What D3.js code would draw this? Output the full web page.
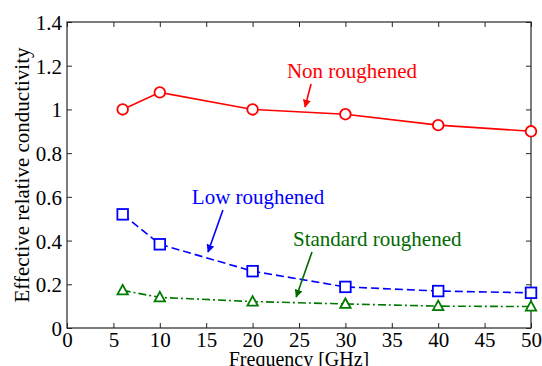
<!DOCTYPE html>
<html>
<head>
<meta charset="utf-8">
<script src="https://cdn.jsdelivr.net/npm/d3@7"></script>
<style>
  body { margin: 0; background: #fff; }
  svg { display: block; font-family: "Liberation Serif", "Times New Roman", serif; }
</style>
</head>
<body>
<div id="chart"></div>
<script>
const W = 542, H = 366;
const margin = {top: 22, right: 11, bottom: 38, left: 67};

// data
const freq = [6, 10, 20, 30, 40, 50];
const nonRough = [1.0, 1.078, 1.0, 0.978, 0.928, 0.90];
const lowRough = [0.52, 0.383, 0.26, 0.188, 0.169, 0.161];
const stdRough = [0.172, 0.14, 0.121, 0.11, 0.10, 0.098];

const xTicks = [0, 5, 10, 15, 20, 25, 30, 35, 40, 45, 50];
const yTicks = [0, 0.2, 0.4, 0.6, 0.8, 1, 1.2, 1.4];
const yTickLabels = ["0", "0.2", "0.4", "0.6", "0.8", "1", "1.2", "1.4"];

const series = [
  {name: "Non roughened", values: nonRough, color: "#ff0000", dash: null, marker: "circle"},
  {name: "Low roughened", values: lowRough, color: "#0000ff", dash: "8,4", marker: "square"},
  {name: "Standard roughened", values: stdRough, color: "#007a00", dash: "8,3,2,3", marker: "triangle"}
];

// annotations (in data units)
const notes = [
  {text: "Non roughened", color: "#ff0000", tx: 23.7, ty: 1.144, x1: 26.3, y1: 1.116, x2: 25.65, y2: 1.011},
  {text: "Low roughened", color: "#0000ff", tx: 13.45, ty: 0.567, x1: 16.8, y1: 0.54, x2: 15.2, y2: 0.348},
  {text: "Standard roughened", color: "#006a00", tx: 24.35, ty: 0.375, x1: 26.4, y1: 0.348, x2: 24.7, y2: 0.142}
];

const w = W - margin.left - margin.right;
const h = H - margin.top - margin.bottom;

const svg = d3.select("#chart").append("svg")
  .attr("width", W).attr("height", H);

const g = svg.append("g")
  .attr("transform", "translate(" + margin.left + "," + margin.top + ")");

const x = d3.scaleLinear().domain([0, 50]).range([0, w]);
const y = d3.scaleLinear().domain([0, 1.4]).range([h, 0]);

// arrow heads
const defs = svg.append("defs");
notes.forEach((n, i) => {
  defs.append("marker")
    .attr("id", "head" + i)
    .attr("viewBox", "0 0 10 10")
    .attr("refX", 9).attr("refY", 5)
    .attr("markerWidth", 5).attr("markerHeight", 5)
    .attr("markerUnits", "strokeWidth")
    .attr("orient", "auto")
    .append("path")
      .attr("d", "M0,0 L10,5 L0,10 z")
      .attr("fill", n.color);
});

// axes (ticks pointing inward, on all four sides)
const axisColor = "#262626";
function styleAxis(sel) {
  sel.select(".domain").remove();
  sel.selectAll(".tick line").attr("stroke", axisColor);
  sel.selectAll(".tick text")
    .attr("fill", "#000")
    .style("font-family", "'Liberation Serif', serif")
    .style("font-size", "21px");
}

g.append("g")
  .attr("transform", "translate(0," + h + ")")
  .call(d3.axisBottom(x).tickValues(xTicks).tickSize(-5).tickPadding(3))
  .call(styleAxis)
  .selectAll(".tick text").attr("dy", "0.74em");

g.append("g")
  .call(d3.axisTop(x).tickValues(xTicks).tickSize(-5).tickFormat(""))
  .call(styleAxis);

g.append("g")
  .call(d3.axisLeft(y).tickValues(yTicks).tickSize(-5).tickPadding(5)
    .tickFormat((d, i) => yTickLabels[i]))
  .call(styleAxis)
  .selectAll(".tick text").attr("dy", "0.36em");

g.append("g")
  .attr("transform", "translate(" + w + ",0)")
  .call(d3.axisRight(y).tickValues(yTicks).tickSize(-5).tickFormat(""))
  .call(styleAxis);

g.append("rect")
  .attr("width", w).attr("height", h)
  .attr("fill", "none")
  .attr("stroke", axisColor)
  .attr("stroke-width", 1.2);

// axis titles
svg.append("text")
  .attr("x", margin.left + w / 2)
  .attr("y", 366)
  .attr("text-anchor", "middle")
  .style("font-size", "20px")
  .text("Frequency [GHz]");

svg.append("text")
  .attr("transform", "translate(29," + (margin.top + h / 2) + ") rotate(-90)")
  .attr("text-anchor", "middle")
  .style("font-size", "21px")
  .text("Effective relative conductivity");

// lines
const line = d3.line()
  .x((d, i) => x(freq[i]))
  .y(d => y(d));

series.forEach(s => {
  g.append("path")
    .datum(s.values)
    .attr("d", line)
    .attr("fill", "none")
    .attr("stroke", s.color)
    .attr("stroke-width", 1.6)
    .attr("stroke-dasharray", s.dash);

  const pts = g.append("g").selectAll("path.pt")
    .data(s.values)
    .enter();

  if (s.marker === "circle") {
    pts.append("circle")
      .attr("cx", (d, i) => x(freq[i]))
      .attr("cy", d => y(d))
      .attr("r", 5.3)
      .attr("fill", "#fff")
      .attr("stroke", s.color)
      .attr("stroke-width", 1.8);
  } else if (s.marker === "square") {
    pts.append("rect")
      .attr("x", (d, i) => x(freq[i]) - 5.3)
      .attr("y", d => y(d) - 5.3)
      .attr("width", 10.6).attr("height", 10.6)
      .attr("fill", "#fff")
      .attr("stroke", s.color)
      .attr("stroke-width", 1.8);
  } else {
    pts.append("path")
      .attr("d", (d, i) => {
        const cx = x(freq[i]), cy = y(d);
        return "M" + (cx - 5.2) + "," + (cy + 4) + "L" + (cx + 5.2) + "," + (cy + 4) +
               "L" + cx + "," + (cy - 5.5) + "Z";
      })
      .attr("fill", "#fff")
      .attr("stroke", s.color)
      .attr("stroke-width", 1.8);
  }
});

// annotations
notes.forEach((n, i) => {
  g.append("line")
    .attr("x1", x(n.x1)).attr("y1", y(n.y1))
    .attr("x2", x(n.x2)).attr("y2", y(n.y2))
    .attr("stroke", n.color)
    .attr("stroke-width", 1.6)
    .attr("marker-end", "url(#head" + i + ")");
  g.append("text")
    .attr("x", x(n.tx)).attr("y", y(n.ty))
    .attr("fill", n.color)
    .style("font-size", "21px")
    .text(n.text);
});
</script>
</body>
</html>
